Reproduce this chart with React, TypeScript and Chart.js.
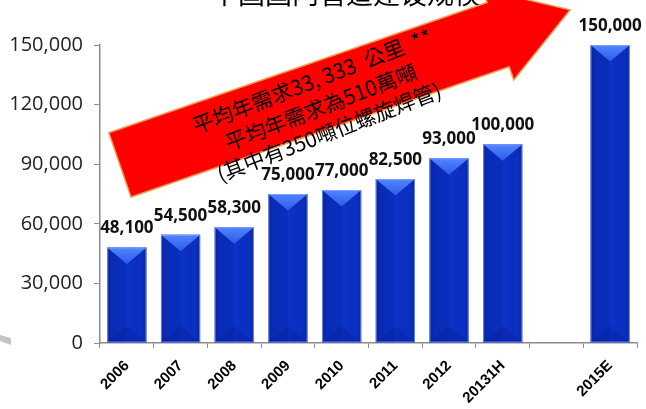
import React, { useEffect, useRef } from 'react';
import { Chart, registerables } from 'chart.js';

Chart.register(...registerables);

const categories = ['2006', '2007', '2008', '2009', '2010', '2011', '2012', '20131H', '', '2015E'];
const volumes = [48100, 54500, 58300, 75000, 77000, 82500, 93000, 100000, null, 150000];
const yMin = 0;
const yMax = 150000;
const yStep = 30000;
const arrowLines = ['平均年需求33, 333  公里  **', '平均年需求為510萬噸', '(其中有350噸位螺旋焊管)'];
const titleText = '中国国内管道建设规模';

const fmt = (v: number) => v.toLocaleString('en-US');

const barStylePlugin = {
  id: 'barStyle',
  afterDatasetsDraw(chart: any) {
    const ctx = chart.ctx;
    const meta = chart.getDatasetMeta(0);
    meta.data.forEach((el: any, i: number) => {
      if (volumes[i] == null) return;
      const { x, y, base, width } = el.getProps(['x', 'y', 'base', 'width'], true);
      const l = x - width / 2;
      const r = x + width / 2;
      const h = base - y;
      ctx.save();
      const g = ctx.createLinearGradient(l, 0, r, 0);
      g.addColorStop(0, 'rgba(0,0,60,0.30)');
      g.addColorStop(0.12, 'rgba(0,0,60,0.10)');
      g.addColorStop(0.5, 'rgba(0,0,60,0.05)');
      g.addColorStop(0.5, 'rgba(40,80,255,0.10)');
      g.addColorStop(0.88, 'rgba(0,0,60,0.02)');
      g.addColorStop(1, 'rgba(0,0,60,0.25)');
      ctx.fillStyle = g;
      ctx.fillRect(l, y, width, h);
      const th = Math.min(width * 0.42, h / 2);
      // bottom bevel
      ctx.beginPath();
      ctx.moveTo(l, base);
      ctx.lineTo(r, base);
      ctx.lineTo(x, base - th);
      ctx.closePath();
      ctx.fillStyle = 'rgba(0,10,90,0.15)';
      ctx.fill();
      // top bevel
      ctx.beginPath();
      ctx.moveTo(l, y);
      ctx.lineTo(r, y);
      ctx.lineTo(x, y + th);
      ctx.closePath();
      const tg = ctx.createLinearGradient(0, y, 0, y + th);
      tg.addColorStop(0, '#5285ff');
      tg.addColorStop(1, '#2c5ce8');
      ctx.fillStyle = tg;
      ctx.fill();
      ctx.strokeStyle = 'rgba(140,170,255,0.7)';
      ctx.lineWidth = 1;
      ctx.strokeRect(l + 0.5, y + 0.5, width - 1, h - 1);
      ctx.restore();

      ctx.save();
      ctx.font = 'bold 17px "Open Sans", "DejaVu Sans", sans-serif';
      ctx.fillStyle = '#111111';
      ctx.textAlign = 'center';
      ctx.textBaseline = 'alphabetic';
      ctx.fillText(fmt(volumes[i] as number), x, y - 14);
      ctx.restore();
    });
  },
};

const decorPlugin = {
  id: 'decor',
  afterDraw(chart: any) {
    const ctx = chart.ctx;
    const ca = chart.chartArea;
    // cut-off title
    ctx.save();
    ctx.font = '27px "Noto Sans CJK SC", sans-serif';
    ctx.fillStyle = '#000000';
    ctx.textAlign = 'center';
    ctx.textBaseline = 'bottom';
    ctx.fillText(titleText, 346, 7);
    ctx.restore();

    // grey swoosh at the left
    ctx.save();
    ctx.beginPath();
    ctx.moveTo(0, 335);
    ctx.lineTo(11, 338);
    ctx.lineTo(11, 345);
    ctx.lineTo(0, 341);
    ctx.closePath();
    ctx.fillStyle = '#c4c4c4';
    ctx.fill();
    ctx.restore();

    // big red arrow
    const ox = ca.left + 31;
    const oy = ca.top + 152;
    const ang = (-19 * Math.PI) / 180;
    const bodyW = 68;
    const headBase = 400;
    const headLen = 76;
    const headOver = 14;
    ctx.save();
    ctx.translate(ox, oy);
    ctx.rotate(ang);
    ctx.beginPath();
    ctx.moveTo(0, 0);
    ctx.lineTo(headBase, 0);
    ctx.lineTo(headBase, headOver);
    ctx.lineTo(headBase + headLen, -bodyW / 2);
    ctx.lineTo(headBase, -bodyW - headOver);
    ctx.lineTo(headBase, -bodyW);
    ctx.lineTo(0, -bodyW);
    ctx.closePath();
    ctx.fillStyle = '#ff0000';
    ctx.fill();
    ctx.strokeStyle = '#f79646';
    ctx.lineWidth = 1.5;
    ctx.lineJoin = 'miter';
    ctx.stroke();
    ctx.restore();

    // arrow text
    const centers = [
      [312, 81],
      [321, 107],
      [329, 132],
    ];
    ctx.save();
    ctx.font = '21px "Noto Sans CJK TC", sans-serif';
    ctx.fillStyle = '#000000';
    ctx.textAlign = 'center';
    ctx.textBaseline = 'middle';
    arrowLines.forEach((t, i) => {
      ctx.save();
      ctx.translate(centers[i][0], centers[i][1]);
      ctx.rotate((-21 * Math.PI) / 180);
      ctx.fillText(t, 0, 0);
      ctx.restore();
    });
    ctx.restore();
  },
};

export default function App() {
  const ref = useRef<HTMLCanvasElement | null>(null);
  useEffect(() => {
    if (!ref.current) return;
    const chart = new Chart(ref.current, {
      type: 'bar',
      data: {
        labels: categories,
        datasets: [
          {
            data: volumes as any,
            backgroundColor: '#0a30c4',
            borderWidth: 0,
            barPercentage: 0.73,
            categoryPercentage: 1,
          },
        ],
      },
      options: {
        animation: false,
        responsive: false,
        devicePixelRatio: 1,
        layout: { padding: { top: 45, right: 9, left: 0, bottom: 0 } },
        plugins: {
          legend: { display: false },
          tooltip: { enabled: false },
          title: { display: false },
        },
        scales: {
          x: {
            afterFit: (s: any) => {
              s.height = 66;
            },
            grid: {
              display: true,
              drawOnChartArea: false,
              drawTicks: true,
              tickLength: 5,
              color: '#8c8c8c',
              offset: true,
            },
            border: { display: true, color: '#8c8c8c', width: 1.5 },
            ticks: {
              autoSkip: false,
              minRotation: 45,
              maxRotation: 45,
              padding: 9,
              color: '#000000',
              font: { family: '"Liberation Sans", Arial, sans-serif', size: 15, weight: 'bold' },
            },
          },
          y: {
            min: yMin,
            max: yMax,
            afterFit: (s: any) => {
              s.width = 100;
            },
            grid: {
              display: true,
              drawOnChartArea: false,
              drawTicks: true,
              tickLength: 6,
              color: '#8c8c8c',
            },
            border: { display: true, color: '#8c8c8c', width: 1.5 },
            ticks: {
              stepSize: yStep,
              padding: 11,
              color: '#222222',
              font: { family: '"Open Sans", sans-serif', size: 20 },
              callback: (v: any) => fmt(Number(v)),
            },
          },
        },
      },
      plugins: [barStylePlugin, decorPlugin],
    });
    return () => chart.destroy();
  }, []);
  return (
    <div style={{ position: 'absolute', left: 0, top: 0, width: 646, height: 409, background: '#ffffff' }}>
      <canvas ref={ref} width={646} height={409} style={{ display: 'block' }} />
    </div>
  );
}
